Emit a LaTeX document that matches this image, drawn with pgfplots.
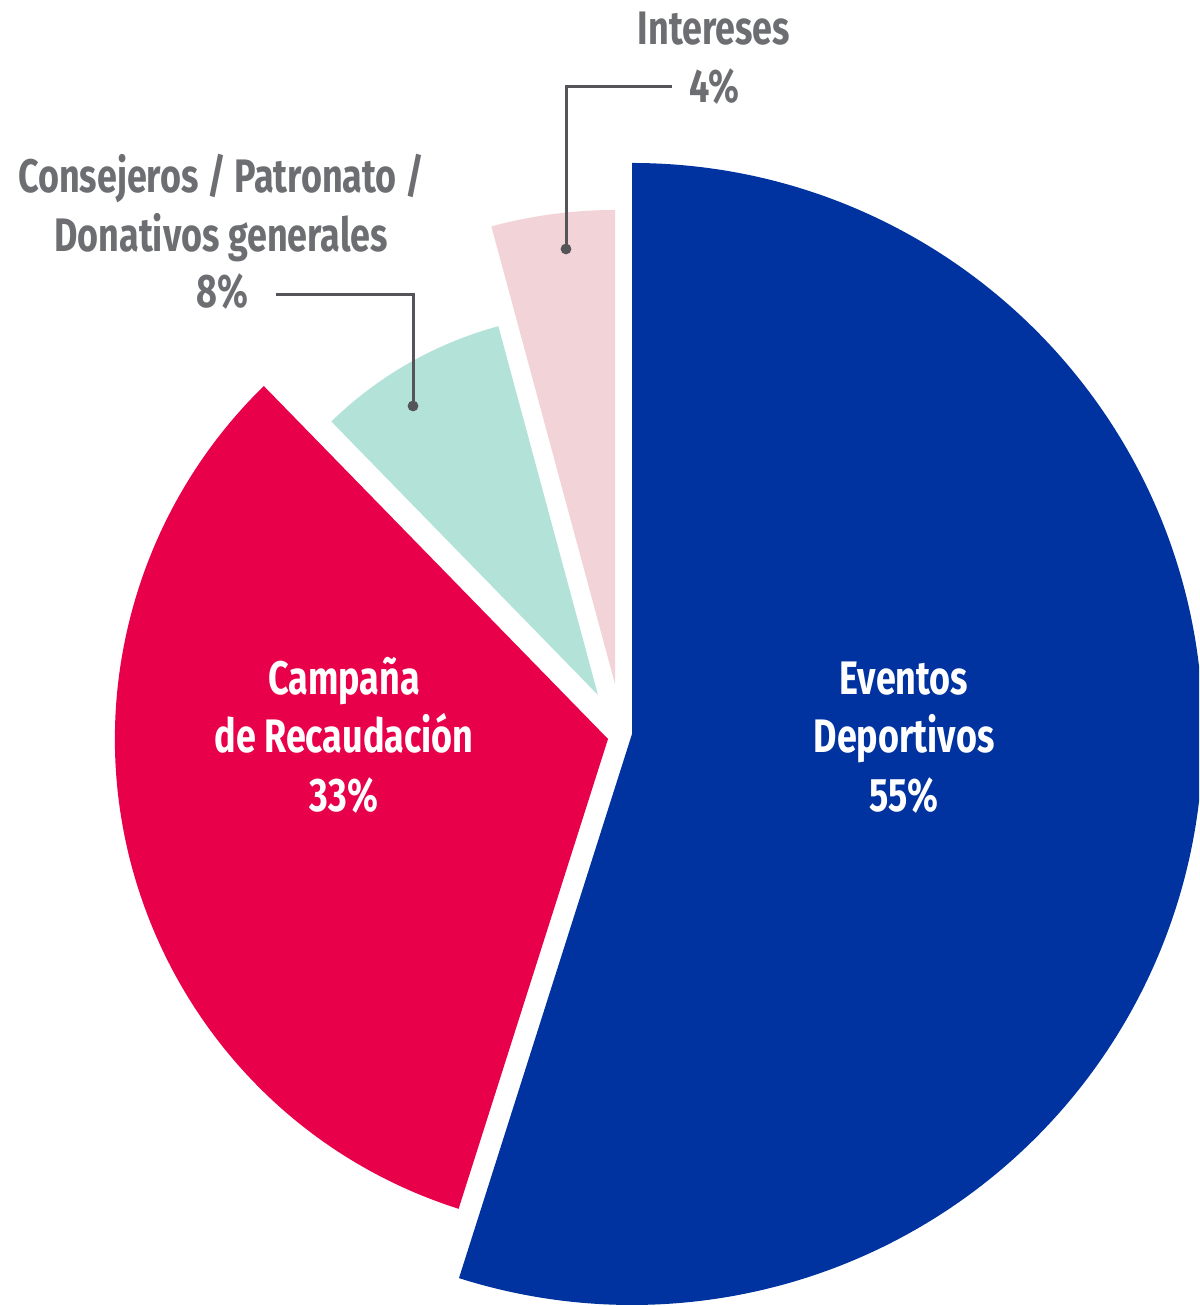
\documentclass[border=0pt]{standalone}
\usepackage{fontspec}
\setmainfont{Fira Sans}[FakeStretch=0.765]
\usepackage{pgfplots}
\pgfplotsset{compat=1.18}
\usepackage{pgfplotstable}
\definecolor{cBlue}{HTML}{0033A0}
\definecolor{cRed}{HTML}{E8004A}
\definecolor{cGreen}{HTML}{B3E2D8}
\definecolor{cPink}{HTML}{F2D3D7}
\definecolor{cText}{HTML}{6D6E71}
\definecolor{cLine}{HTML}{555559}

% share (%), wedge vertex (x,y) and radius, in picture units
\pgfplotstableread{
share cx cy r
54.9 632 572 571
32.8 608 567 493
8.1 598 611 382
4.2 615 622 474
}\piedata

\begin{document}
\begin{tikzpicture}
\begin{axis}[x=0.5pt,y=0.5pt,xmin=0,xmax=1199,ymin=0,ymax=1306,
  hide axis,clip=false]
\path (axis cs:0,0) rectangle (axis cs:1199,1306);
\pgfplotsextra{
  \begin{scope}
  \clip (axis cs:0,0) rectangle (axis cs:1199,1306);
  \xdef\angA{90}
  \foreach \i/\col in {0/cBlue,1/cRed,2/cGreen,3/cPink}{
    \pgfplotstablegetelem{\i}{share}\of\piedata \pgfmathsetmacro\p{\pgfplotsretval}
    \pgfplotstablegetelem{\i}{cx}\of\piedata \pgfmathsetmacro\cx{\pgfplotsretval}
    \pgfplotstablegetelem{\i}{cy}\of\piedata \pgfmathsetmacro\cy{\pgfplotsretval}
    \pgfplotstablegetelem{\i}{r}\of\piedata \pgfmathsetmacro\rr{\pgfplotsretval}
    \pgfmathsetmacro\angB{\angA-3.6*\p}
    \pgfmathsetmacro\rpt{0.5*\rr}
    \fill[\col] (axis cs:\cx,\cy) -- ++(\angA:\rpt pt)
      arc[start angle=\angA,end angle=\angB,radius=\rpt pt] -- cycle;
    \global\let\angA\angB
  }
  \end{scope}
  % leader lines
  \draw[cLine,line width=1.5pt] (axis cs:672,1219) -- (axis cs:566,1219) -- (axis cs:566,1057);
  \fill[cLine] (axis cs:566,1057) circle[radius=2.7pt];
  \draw[cLine,line width=1.5pt] (axis cs:276,1011) -- (axis cs:413,1011) -- (axis cs:413,900);
  \fill[cLine] (axis cs:413,900) circle[radius=2.7pt];
  % labels
  \begin{scope}[every node/.style={anchor=base,inner sep=0pt,font=\bfseries\fontsize{23.5}{29}\selectfont}]
    \node[text=cText] at (axis cs:714,1261) {Intereses};
    \node[text=cText] at (axis cs:714,1203) {4\%};
    \node[text=cText] at (axis cs:221,1113) {Consejeros / Patronato /};
    \node[text=cText] at (axis cs:221,1054) {Donativos generales};
    \node[text=cText] at (axis cs:222,998) {8\%};
    \node[text=white] at (axis cs:344,611) {Campaña};
    \node[text=white] at (axis cs:344,553) {de Recaudación};
    \node[text=white] at (axis cs:344,494) {33\%};
    \node[text=white] at (axis cs:904,611) {Eventos};
    \node[text=white] at (axis cs:904,553) {Deportivos};
    \node[text=white] at (axis cs:904,494) {55\%};
  \end{scope}
}
\end{axis}
\end{tikzpicture}
\end{document}
